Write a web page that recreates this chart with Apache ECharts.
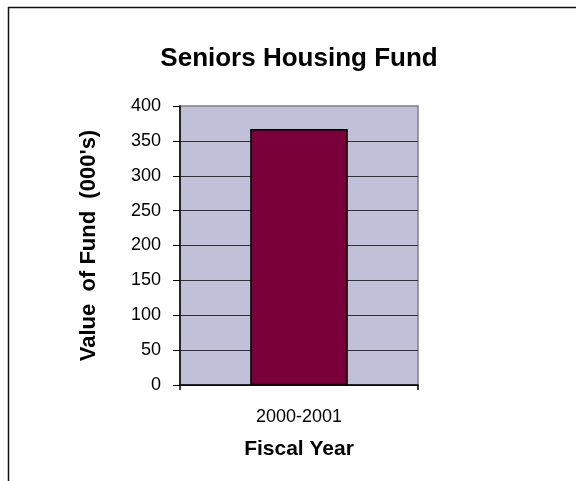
<!DOCTYPE html>
<html>
<head>
<meta charset="utf-8">
<script src="https://cdn.jsdelivr.net/npm/echarts@6/dist/echarts.min.js"></script>
<style>
  html, body { margin: 0; padding: 0; background: #ffffff; }
  #chart { width: 576px; height: 481px; }
</style>
</head>
<body>
<div id="chart"></div>
<script>
// Fund value by fiscal year, in thousands of dollars
const fiscalYears = ['2000-2001'];
const fundValues = [367];
const yTicks = { min: 0, max: 400, step: 50 };

const chart = echarts.init(document.getElementById('chart'), null, { renderer: 'canvas' });

chart.setOption({
  backgroundColor: '#ffffff',
  animation: false,
  textStyle: { fontFamily: 'Liberation Sans, Arial, sans-serif' },
  title: {
    text: 'Seniors Housing Fund',
    left: 294,
    top: 41,
    textAlign: 'center',
    textStyle: { fontSize: 26, fontWeight: 'bold', color: '#000' }
  },
  graphic: [
    { type: 'line', shape: { x1: 8, y1: 7.5, x2: 576, y2: 7.5 }, style: { stroke: '#111', lineWidth: 1.5 } },
    { type: 'line', shape: { x1: 8.5, y1: 7, x2: 8.5, y2: 481 }, style: { stroke: '#111', lineWidth: 1.5 } }
  ],
  grid: {
    left: 180,
    right: 158,
    top: 106,
    bottom: 96,
    show: true,
    backgroundColor: '#c0c0d8',
    borderColor: '#808080',
    borderWidth: 1.5
  },
  xAxis: {
    type: 'category',
    data: fiscalYears,
    boundaryGap: true,
    name: 'Fiscal Year',
    nameLocation: 'middle',
    nameGap: 54,
    nameTextStyle: { fontSize: 21, fontWeight: 'bold', color: '#000' },
    axisLine: { lineStyle: { color: '#000', width: 1.5 } },
    axisTick: { show: true, length: 5, lineStyle: { color: '#000', width: 1.5 } },
    axisLabel: { fontSize: 18, color: '#000', margin: 23 }
  },
  yAxis: {
    type: 'value',
    min: yTicks.min,
    max: yTicks.max,
    interval: yTicks.step,
    name: "Value  of Fund  (000's)",
    nameLocation: 'middle',
    nameGap: 80,
    nameRotate: 90,
    nameTextStyle: { fontSize: 22, fontWeight: 'bold', color: '#000' },
    axisLine: { show: true, lineStyle: { color: '#000', width: 1.5 } },
    axisTick: { show: true, length: 7, lineStyle: { color: '#000', width: 1 } },
    axisLabel: { fontSize: 18, color: '#000', margin: 19 },
    splitLine: { show: true, showMaxLine: false, lineStyle: { color: '#303030', width: 1 } }
  },
  series: [{
    type: 'bar',
    data: fundValues,
    barWidth: '41%',
    itemStyle: { color: '#7a0039', borderColor: '#000', borderWidth: 1.5 }
  }]
});
</script>
</body>
</html>
